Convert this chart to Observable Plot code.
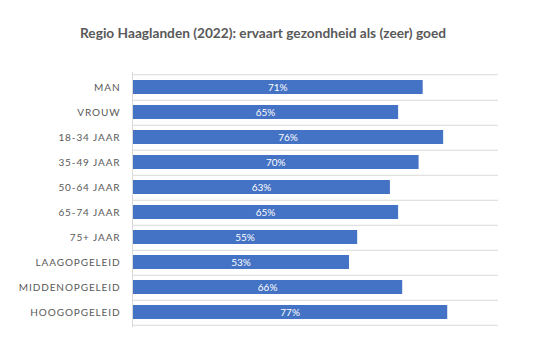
<!DOCTYPE html>
<html><head><meta charset="utf-8">
<script src="https://cdn.jsdelivr.net/npm/d3@7"></script>
<script src="https://cdn.jsdelivr.net/npm/@observablehq/plot@0.6"></script>
<style>
body{margin:0;background:#fff;}
#wrap{position:relative;width:550px;height:352px;}
#title{position:absolute;left:0;top:24px;width:526px;text-align:center;font-family:Lato,"Open Sans",sans-serif;font-weight:bold;font-size:13.7px;color:#595959;}
#chart{position:absolute;left:0;top:0;}
</style></head>
<body>
<div id="wrap"><div id="chart"></div><div id="title">Regio Haaglanden (2022): ervaart gezondheid als (zeer) goed</div></div>
<script>
const categories = ["MAN","VROUW","18-34 JAAR","35-49 JAAR","50-64 JAAR","65-74 JAAR","75+ JAAR","LAAGOPGELEID","MIDDENOPGELEID","HOOGOPGELEID"];
const values = [71,65,76,70,63,65,55,53,66,77];
const data = categories.map((c,i)=>({cat:c, v:values[i]}));
const xMax = 89.4;
const step = 25.5;
const chart = Plot.plot({
  width:550, height:352,
  marginLeft:132, marginRight:52, marginTop:72, marginBottom:25,
  style:{fontFamily:"Lato, 'Open Sans', sans-serif", background:"#fff"},
  x:{domain:[0,xMax], axis:null},
  y:{domain:categories, paddingInner:0.45, paddingOuter:0.225, label:null, tickSize:0, tickPadding:12},
  marks:[
    Plot.ruleY(categories, {y:d=>d, dy:step/2, x1:0, x2:xMax, stroke:"#d9d9d9", strokeWidth:1}),
    Plot.ruleY([categories[0]], {y:d=>d, dy:-step/2, x1:0, x2:xMax, stroke:"#d9d9d9", strokeWidth:1}),
    Plot.barX(data, {y:"cat", x:"v", fill:"#4472C4"}),
    Plot.ruleX([0], {stroke:"#d9d9d9"}),
    Plot.text(data, {y:"cat", x:d=>d.v/2, text:d=>d.v+"%", fill:"white", fontSize:10})
  ]
});
chart.querySelectorAll('g[aria-label="y-axis tick label"] text').forEach(t=>{
  t.setAttribute("fill","#595959"); t.style.letterSpacing="0.9px"; t.setAttribute("font-size","10");
});
document.getElementById("chart").appendChild(chart);
</script>
</body></html>
